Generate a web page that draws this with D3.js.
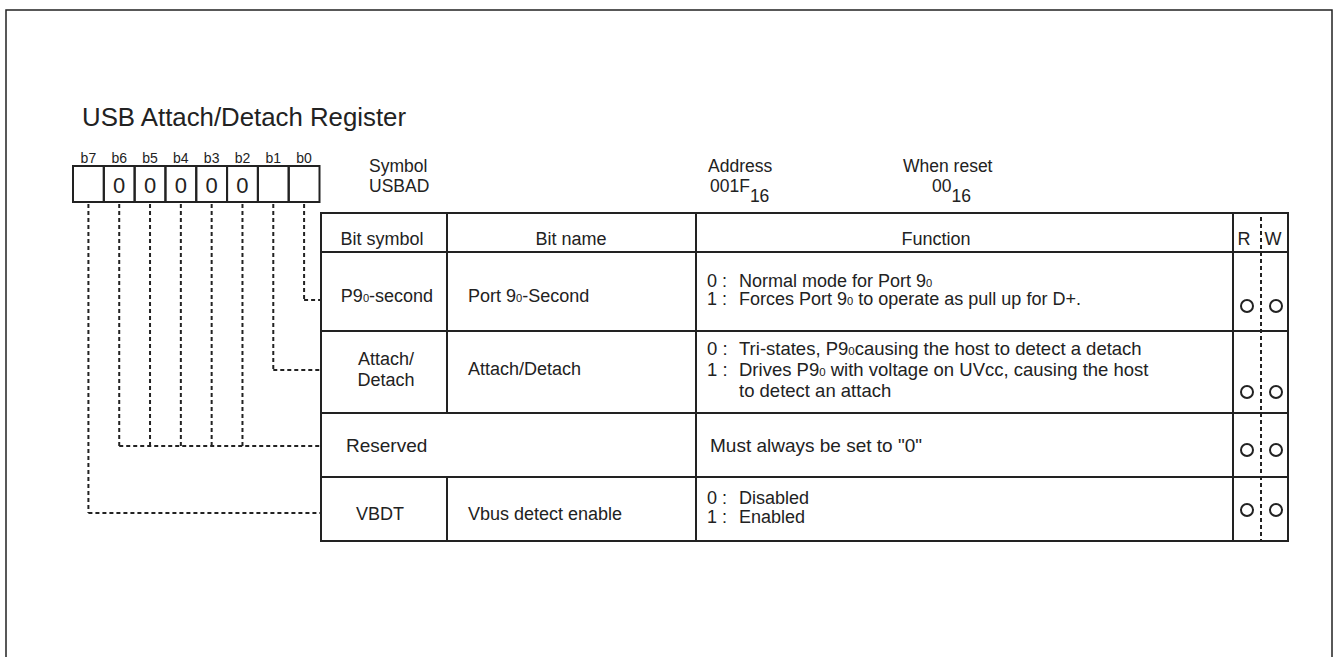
<!DOCTYPE html>
<html><head><meta charset="utf-8">
<script src="https://cdn.jsdelivr.net/npm/d3@7"></script>
<style>
html,body{margin:0;padding:0;background:#fff;}
text{font-family:"Liberation Sans",Arial,sans-serif;fill:#222;}
</style></head>
<body><svg id="c" width="1334" height="657"></svg>
<script>
// ---------- data ----------
const title = "USB Attach/Detach Register";
const bitLabels = ["b7","b6","b5","b4","b3","b2","b1","b0"];
const bitValues = ["","0","0","0","0","0","",""];
const headerLabels = ["Bit symbol","Bit name","Function","R","W"];
const rowSymbols = [["P9|0|-second"],["Attach/","Detach"],["Reserved"],["VBDT"]];
const rowNames = ["Port 9|0|-Second","Attach/Detach","","Vbus detect enable"];
const rowFunctions = [
  [["0 :","Normal mode for Port 9|0|"],["1 :","Forces Port 9|0| to operate as pull up for D+."]],
  [["0 :","Tri-states, P9|0|causing the host to detect a detach"],["1 :","Drives P9|0| with voltage on UVcc, causing the host"],["","to detect an attach"]],
  [["","Must always be set to \"0\""]],
  [["0 :","Disabled"],["1 :","Enabled"]]
];
const rowRead = ["O","O","O","O"];
const rowWrite = ["O","O","O","O"];
const rowBits = [["b0"],["b1"],["b6","b5","b4","b3","b2"],["b7"]];
const infoLabels = ["Symbol","Address","When reset"];
const infoValues = [["USBAD",""],["001F","16"],["00","16"]];

// ---------- layout ----------
const svg = d3.select("#c");
const ink = "#222";
svg.append("rect").attr("x",6).attr("y",10).attr("width",1326).attr("height",700)
  .attr("fill","none").attr("stroke",ink).attr("stroke-width",1.5);

svg.append("text").attr("x",82).attr("y",126).attr("font-size",25.8).text(title);

// bit box
const bx = d3.scaleBand().domain(bitLabels).range([73,319.5]);
const boxTop = 166, boxBot = 202;
svg.selectAll(".bl").data(bitLabels).join("text")
  .attr("x",d=>bx(d)+bx.bandwidth()/2).attr("y",163).attr("text-anchor","middle")
  .attr("font-size",14).text(d=>d);
svg.selectAll(".bc").data(bitLabels).join("rect")
  .attr("x",d=>bx(d)).attr("y",boxTop).attr("width",bx.bandwidth()).attr("height",boxBot-boxTop)
  .attr("fill","none").attr("stroke",ink).attr("stroke-width",2);
svg.selectAll(".bv").data(bitValues).join("text")
  .attr("x",(d,i)=>bx(bitLabels[i])+bx.bandwidth()/2).attr("y",193).attr("text-anchor","middle")
  .attr("font-size",22).text(d=>d);

// info text
const infoX = d3.scaleOrdinal().domain(infoLabels).range([369,708,903]);
const infoValX = d3.scaleOrdinal().domain(infoLabels).range([369,710,932]);
infoLabels.forEach((lab,i)=>{
  svg.append("text").attr("x",infoX(lab)).attr("y",172).attr("font-size",17.5).text(lab);
  const t = svg.append("text").attr("x",infoValX(lab)).attr("y",192).attr("font-size",17.5);
  t.append("tspan").text(infoValues[i][0]);
  if (infoValues[i][1]) t.append("tspan").attr("dy",10).text(infoValues[i][1]);
});

// table
const colX = [321,447,696,1233,1288];
const rowY = d3.scaleOrdinal().domain(["h",0,1,2,3,"end"]).range([213,252,331,413,477,541]);
const rowTop = i=>rowY(i);
const tbl = svg.append("g").attr("stroke",ink).attr("stroke-width",2);
tbl.append("rect").attr("x",colX[0]).attr("y",rowY("h")).attr("width",colX[4]-colX[0])
  .attr("height",rowY("end")-rowY("h")).attr("fill","none");
[0,1,2,3].forEach(i=>tbl.append("line").attr("x1",colX[0]).attr("x2",colX[4])
  .attr("y1",rowTop(i)).attr("y2",rowTop(i)));
[[colX[1],213,413],[colX[1],477,541],[colX[2],213,541],[colX[3],213,541]].forEach(([x,a,b])=>
  tbl.append("line").attr("x1",x).attr("x2",x).attr("y1",a).attr("y2",b));
// R/W dashed divider
const rwMid = 1261;
svg.append("line").attr("x1",rwMid).attr("x2",rwMid).attr("y1",217).attr("y2",541)
  .attr("stroke",ink).attr("stroke-width",2).attr("stroke-dasharray","4,3");

// header
const hdrX = [382,571,936,1244,1273];
svg.selectAll(".hd").data(headerLabels).join("text")
  .attr("x",(d,i)=>hdrX[i]).attr("y",245).attr("text-anchor","middle").attr("font-size",18).text(d=>d);

// rich text helper: "a|sub|b" -> small inline digit
function rich(sel, s, big){
  s.split("|").forEach((part,k)=>{
    if(!part) return;
    sel.append("tspan").attr("font-size",k%2===1?big*0.62:big).text(part);
  });
}

// row contents
const symX = [387,386,346,380];
const symY = [[302],[365,386],[452],[520]];
const symSize = [18,18,19,18];
const nameY = [302,375,452,520];
const fnY = [[287,305],[355,376,397],[452],[504,523]];
const fnSize = [18,18.5,19,18];
rowSymbols.forEach((lines,i)=>{
  lines.forEach((ln,j)=>{
    const t = svg.append("text").attr("x",symX[i]).attr("y",symY[i][j]).attr("font-size",symSize[i]);
    if(i!==2) t.attr("text-anchor","middle");
    rich(t,ln,symSize[i]);
  });
  if(rowNames[i]){
    const t = svg.append("text").attr("x",468).attr("y",nameY[i]).attr("font-size",18);
    rich(t,rowNames[i],18);
  }
  rowFunctions[i].forEach((ln,j)=>{
    if(ln[0]) svg.append("text").attr("x",707).attr("y",fnY[i][j]).attr("font-size",fnSize[i]).text(ln[0]);
    const t = svg.append("text").attr("x",(ln[0]||j>0)?739:710).attr("y",fnY[i][j]).attr("font-size",fnSize[i]);
    rich(t,ln[1],fnSize[i]);
  });
});

// R/W circles
const circY = [306,392,450,510];
[[rowRead,1247],[rowWrite,1276]].forEach(([arr,cx])=>{
  svg.selectAll(null).data(arr).join("circle")
    .attr("cx",cx).attr("cy",(d,i)=>circY[i]).attr("r",6)
    .attr("fill","none").attr("stroke",ink).attr("stroke-width",2);
});

// connectors
const connY = [300,370,446,513];
const conn = svg.append("g").attr("fill","none").attr("stroke",ink).attr("stroke-width",2)
  .attr("stroke-dasharray","4,3");
rowBits.forEach((bits,i)=>{
  bits.forEach(b=>{
    const x = bx(b)+bx.bandwidth()/2;
    conn.append("line").attr("x1",x).attr("x2",x).attr("y1",boxBot+2).attr("y2",connY[i]);
  });
  const xs = bits.map(b=>bx(b)+bx.bandwidth()/2);
  conn.append("line").attr("x1",d3.min(xs)).attr("x2",colX[0]).attr("y1",connY[i]).attr("y2",connY[i]);
});
</script></body></html>
